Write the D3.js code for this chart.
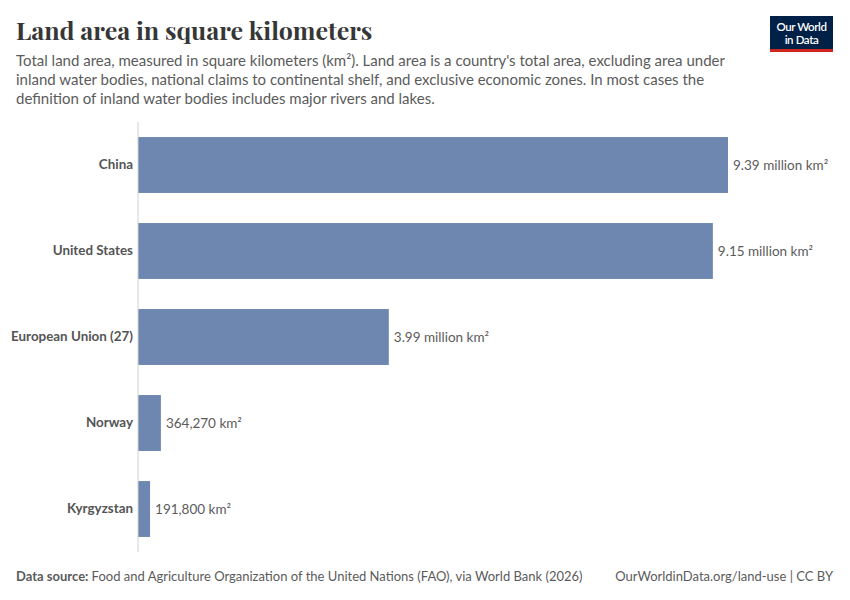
<!DOCTYPE html>
<html>
<head>
<meta charset="utf-8">
<script src="https://cdn.jsdelivr.net/npm/d3@7"></script>
<style>
  body { margin: 0; background: #fff; }
  svg { font-family: Lato, "Open Sans", sans-serif; }
</style>
</head>
<body>
<svg id="chart"></svg>
<script>
// chart data
const countries = ["China", "United States", "European Union (27)", "Norway", "Kyrgyzstan"];
const areas = [9388210, 9147420, 3991000, 364270, 191800];
const valueLabels = ["9.39 million km²", "9.15 million km²", "3.99 million km²", "364,270 km²", "191,800 km²"];

const subtitleLines = [
  "Total land area, measured in square kilometers (km²). Land area is a country's total area, excluding area under",
  "inland water bodies, national claims to continental shelf, and exclusive economic zones. In most cases the",
  "definition of inland water bodies includes major rivers and lakes."
];

const config = {
  width: 850,
  height: 600,
  margin: { top: 122, right: 122, bottom: 50, left: 138 }
};

const svg = d3.select("#chart")
  .attr("width", config.width)
  .attr("height", config.height);

const innerW = config.width - config.margin.left - config.margin.right;
const innerH = config.height - config.margin.top - config.margin.bottom;

// data table built from the arrays
const data = countries.map((c, i) => ({ name: c, value: areas[i], label: valueLabels[i] }));

// x: China bar spans ~590px
const xScale = d3.scaleLinear()
  .domain([0, d3.max(areas)])
  .range([0, 590]);

const yScale = d3.scaleBand()
  .domain(countries)
  .range([0, innerH + 2])
  .paddingInner(0.35)
  .paddingOuter(0.175);

// title
svg.append("text")
  .attr("x", 16)
  .attr("y", 40)
  .attr("font-family", "'Playfair Display', 'Liberation Serif', 'DejaVu Serif', serif")
  .attr("font-size", 25)
  .attr("font-weight", 700)
  .attr("fill", "#363636")
  .text("Land area in square kilometers");

// subtitle
svg.append("g")
  .selectAll("text")
  .data(subtitleLines)
  .join("text")
  .attr("x", 16)
  .attr("y", (d, i) => 66 + i * 19)
  .attr("font-size", 15)
  .attr("fill", "#5b5b5b")
  .text(d => d);

// logo
const logo = svg.append("g").attr("transform", "translate(770,16)");
logo.append("rect").attr("width", 63).attr("height", 36).attr("fill", "#002147");
logo.append("rect").attr("y", 33).attr("width", 63).attr("height", 3).attr("fill", "#ce261e");
logo.selectAll(".logo-text")
  .data(["Our World", "in Data"])
  .join("text")
  .attr("class", "logo-text")
  .attr("x", 31.5)
  .attr("y", (d, i) => 14.5 + i * 13.5)
  .attr("text-anchor", "middle")
  .attr("font-size", 11.5).attr("font-weight", 600)
  .attr("letter-spacing", -0.4)
  .attr("fill", "#fff")
  .text(d => d);

const chart = svg.append("g")
  .attr("transform", `translate(${config.margin.left},${config.margin.top})`);

// bars
chart.selectAll(".bar")
  .data(data)
  .join("rect")
  .attr("class", "bar")
  .attr("x", 0)
  .attr("y", d => yScale(d.name))
  .attr("width", d => xScale(d.value))
  .attr("height", yScale.bandwidth())
  .attr("fill", "#6d87b0");

// value labels
chart.selectAll(".value")
  .data(data)
  .join("text")
  .attr("class", "value")
  .attr("x", d => xScale(d.value) + 5)
  .attr("y", d => yScale(d.name) + yScale.bandwidth() / 2)
  .attr("dy", "0.35em")
  .attr("font-size", 13.5)
  .attr("fill", "#5b5b5b")
  .text(d => d.label);

// y axis with category labels
const yAxis = d3.axisLeft(yScale).tickSize(0).tickPadding(5);
const yAxisG = chart.append("g").call(yAxis);
yAxisG.select(".domain").remove();
yAxisG.selectAll("text")
  .attr("font-family", "Lato, sans-serif")
  .attr("font-size", 13.4)
  .attr("font-weight", 700)
  .attr("fill", "#555");

// baseline
chart.append("line")
  .attr("x1", 0).attr("x2", 0)
  .attr("y1", 0).attr("y2", innerH + 2)
  .attr("stroke", "#d0d0d0")
  .attr("stroke-width", 1);

// footer
const footer = svg.append("text")
  .attr("x", 16)
  .attr("y", 581)
  .attr("font-size", 13)
  .attr("fill", "#5b5b5b");
footer.append("tspan").attr("font-weight", 700).text("Data source: ");
footer.append("tspan").text("Food and Agriculture Organization of the United Nations (FAO), via World Bank (2026)");

svg.append("text")
  .attr("x", 833)
  .attr("y", 581)
  .attr("text-anchor", "end")
  .attr("font-size", 13)
  .attr("fill", "#5b5b5b")
  .text("OurWorldinData.org/land-use | CC BY");
</script>
</body>
</html>
